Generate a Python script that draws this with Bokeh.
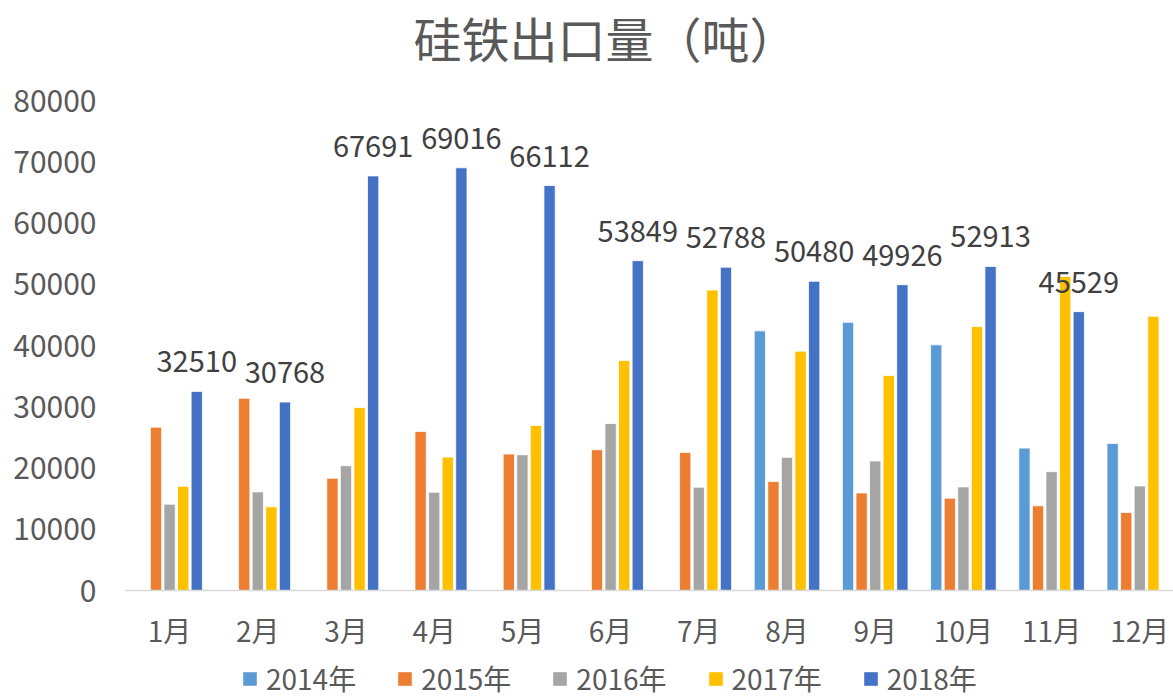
import math
from bokeh.plotting import figure
from bokeh.layouts import column
from bokeh.models import ColumnDataSource, Range1d, Legend, LegendItem, LabelSet, Label, FixedTicker
from bokeh.transform import dodge
from bokeh.core.properties import value
from bokeh.embed import file_html
from bokeh.resources import INLINE

nan = float("nan")

title_text = "硅铁出口量（吨）"
months = ["1月", "2月", "3月", "4月", "5月", "6月", "7月", "8月", "9月", "10月", "11月", "12月"]
years = ["2014年", "2015年", "2016年", "2017年", "2018年"]
v2014 = [nan, nan, nan, nan, nan, nan, nan, 42390, 43790, 40110, 23250, 24020]
v2015 = [26670, 31380, 18330, 25970, 22280, 22980, 22550, 17780, 15930, 15070, 13820, 12740]
v2016 = [14100, 16100, 20370, 16050, 22160, 27270, 16860, 21740, 21140, 16910, 19400, 17070]
v2017 = [17020, 13660, 29870, 21790, 26940, 37560, 49060, 39080, 35120, 43090, 51270, 44770]
v2018 = [32510, 30768, 67691, 69016, 66112, 53849, 52788, 50480, 49926, 52913, 45529, nan]
colors = ["#5B9BD5", "#ED7D31", "#A5A5A5", "#FFC000", "#4472C4"]
yticks = [0, 10000, 20000, 30000, 40000, 50000, 60000, 70000, 80000]

FONT = "Noto Sans CJK SC"
TXT = "#595959"


def strip(h):
    f = figure(width=1173, height=h, output_backend="svg", toolbar_location=None,
               x_range=Range1d(125, 1173), y_range=Range1d(0, h),
               x_axis_location=None, y_axis_location=None,
               min_border_left=0, min_border_right=0, min_border_top=0, min_border_bottom=0)
    f.outline_line_color = None
    f.xgrid.grid_line_color = None
    f.ygrid.grid_line_color = None
    f.border_fill_color = "white"
    f.background_fill_color = "white"
    return f


# title strip
ts = strip(72)
ts.add_layout(Label(x=605, y=36, text=title_text, text_align="center", text_baseline="middle",
                    text_font=FONT, text_font_size="48px", text_color=TXT))

# main chart
xs = list(range(1, len(months) + 1))
series = [v2014, v2015, v2016, v2017, v2018]
data = {"x": xs}
for i, s in enumerate(series):
    data["y%d" % i] = s
src = ColumnDataSource(data)

p = figure(width=1173, height=580, output_backend="svg", toolbar_location=None,
           x_range=Range1d(0.5, 12.382), y_range=Range1d(0, 80000),
           min_border_left=125, min_border_right=0, min_border_top=28, min_border_bottom=60)
p.outline_line_color = None
p.xgrid.grid_line_color = None
p.ygrid.grid_line_color = None
p.background_fill_color = "white"
p.border_fill_color = "white"

pitch = 0.154
bw = 0.128
for i, s in enumerate(series):
    p.vbar(x=dodge("x", (i - 2) * pitch, range=p.x_range), top="y%d" % i, width=bw,
           source=src, fill_color=colors[i], line_color="white", line_width=0.8)

# data labels for 2018
lx = [x for x, v in zip(xs, v2018) if not math.isnan(v)]
lv = [v for v in v2018 if not math.isnan(v)]
lsrc = ColumnDataSource({"x": [x + 2 * pitch for x in lx], "y": lv, "t": ["%d" % v for v in lv]})
labels = LabelSet(x="x", y="y", text="t", source=lsrc, text_align="center",
                  text_baseline="alphabetic", y_offset=19, text_font=value(FONT),
                  text_font_size="29px", text_color="#404040")
p.add_layout(labels)

p.xaxis.ticker = FixedTicker(ticks=xs)
p.xaxis.major_label_overrides = {x: m for x, m in zip(xs, months)}
p.xaxis.major_tick_line_color = None
p.xaxis.minor_tick_line_color = None
p.xaxis.major_tick_out = 0
p.xaxis.major_tick_in = 0
p.xaxis.minor_tick_out = 0
p.xaxis.axis_line_color = "#D9D9D9"
p.xaxis.axis_line_width = 1.5
p.xaxis.major_label_text_font = FONT
p.xaxis.major_label_text_font_size = "28px"
p.xaxis.major_label_text_color = TXT
p.xaxis.major_label_standoff = 19

p.yaxis.ticker = FixedTicker(ticks=yticks)
p.yaxis.axis_line_color = None
p.yaxis.major_tick_line_color = None
p.yaxis.minor_tick_line_color = None
p.yaxis.major_tick_out = 0
p.yaxis.major_tick_in = 0
p.yaxis.minor_tick_out = 0
p.yaxis.major_label_text_font = FONT
p.yaxis.major_label_text_font_size = "30px"
p.yaxis.major_label_text_color = TXT
p.yaxis.major_label_standoff = 29

# legend strip
lg = strip(46)
dummy = ColumnDataSource({"x": [-1000], "top": [-1000]})
items = []
for i in range(len(years)):
    r = lg.vbar(x="x", top="top", width=1, source=dummy, fill_color=colors[i], line_color=None)
    items.append(LegendItem(label=years[i], renderers=[r]))
legend = Legend(items=items, orientation="horizontal", location=(116, 0),
                label_text_font=FONT, label_text_font_size="28px", label_text_color=TXT,
                glyph_width=17, glyph_height=17, label_standoff=8, spacing=40,
                padding=0, margin=0, border_line_color=None, background_fill_alpha=0)
lg.add_layout(legend, "center")

layout = column(ts, p, lg, spacing=0)
open("out.html", "w").write(file_html(layout, INLINE))
